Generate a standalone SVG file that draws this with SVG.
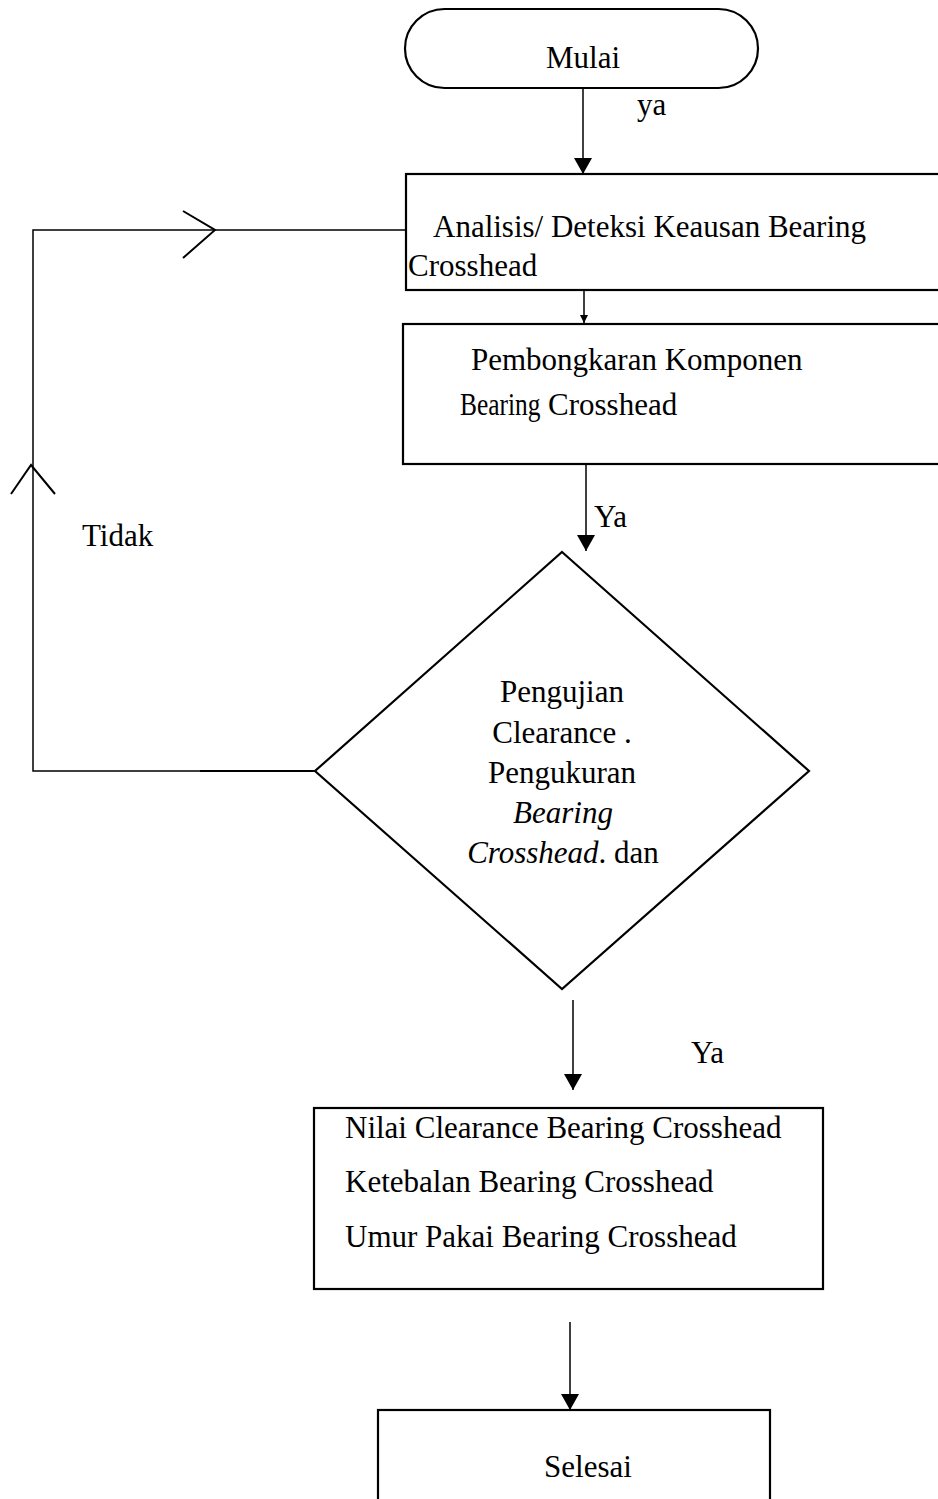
<svg xmlns="http://www.w3.org/2000/svg" width="938" height="1499" viewBox="0 0 938 1499">
<style>
.t{font-family:"Liberation Serif","Times New Roman",serif;font-size:31px;fill:#000}
.box{fill:#fff;stroke:#000;stroke-width:2.2}
.ln{fill:none;stroke:#000;stroke-width:1.5}
.chev{fill:none;stroke:#000;stroke-width:2}
</style>
<defs>
<marker id="ah" viewBox="0 0 16 18" refX="16" refY="9" markerWidth="16" markerHeight="18" markerUnits="userSpaceOnUse" orient="auto">
<path d="M0,0 L16,9 L0,18 Z" fill="#000"/>
</marker>
<marker id="ahs" viewBox="0 0 8 8" refX="8" refY="4" markerWidth="8" markerHeight="8" markerUnits="userSpaceOnUse" orient="auto">
<path d="M0,0 L8,4 L0,8 Z" fill="#000"/>
</marker>
</defs>
<rect width="938" height="1499" fill="#fff"/>
<g id="connectors">
<line class="ln" x1="583" y1="88" x2="583" y2="174" marker-end="url(#ah)"/>
<line class="ln" x1="584" y1="290" x2="584" y2="323" marker-end="url(#ahs)"/>
<line class="ln" x1="586" y1="464" x2="586" y2="551" marker-end="url(#ah)"/>
<path class="ln" d="M315,771 H33 V230 H406"/>
<line x1="200" y1="771" x2="315" y2="771" stroke="#000" stroke-width="2.2"/>
<polyline class="chev" points="183,211 215,230 183,258"/>
<polyline class="chev" points="11,494 31,465 55,494"/>
<line class="ln" x1="573" y1="1000" x2="573" y2="1090" marker-end="url(#ah)"/>
<line class="ln" x1="570" y1="1322" x2="570" y2="1410" marker-end="url(#ah)"/>
<text class="t" x="637" y="115">ya</text>
<text class="t" x="594" y="527">Ya</text>
<text class="t" x="82" y="546">Tidak</text>
<text class="t" x="691" y="1063">Ya</text>
</g>
<g id="mulai">
<rect class="box" x="405" y="9" width="353" height="79" rx="39.5" ry="39.5"/>
<text class="t" x="583" y="68" text-anchor="middle">Mulai</text>
</g>
<g id="analisis">
<rect class="box" x="406" y="174" width="560" height="116"/>
<text class="t" x="433" y="237">Analisis/ Deteksi Keausan Bearing</text>
<text class="t" x="408" y="276">Crosshead</text>
</g>
<g id="pembongkaran">
<rect class="box" x="403" y="324" width="560" height="140"/>
<text class="t" x="471" y="370">Pembongkaran Komponen</text>
<text class="t" transform="translate(460 415) scale(0.82 1)">Bearing</text>
<text class="t" x="548" y="415">Crosshead</text>
</g>
<g id="pengujian">
<polygon points="562,552 809,771 562,989 315,771" fill="#fff" stroke="#000" stroke-width="2.2"/>
<text class="t" x="562" y="702" text-anchor="middle">Pengujian</text>
<text class="t" x="562" y="743" text-anchor="middle">Clearance .</text>
<text class="t" x="562" y="783" text-anchor="middle">Pengukuran</text>
<text class="t" x="563" y="823" text-anchor="middle" font-style="italic">Bearing</text>
<text class="t" x="563" y="863" text-anchor="middle"><tspan font-style="italic">Crosshead</tspan>. dan</text>
</g>
<g id="nilai">
<rect class="box" x="314" y="1108" width="509" height="181"/>
<text class="t" x="345" y="1138">Nilai Clearance Bearing Crosshead</text>
<text class="t" x="345" y="1192">Ketebalan Bearing Crosshead</text>
<text class="t" x="345" y="1247">Umur Pakai Bearing Crosshead</text>
</g>
<g id="selesai">
<rect class="box" x="378" y="1410" width="392" height="110"/>
<text class="t" x="588" y="1477" text-anchor="middle">Selesai</text>
</g>
</svg>
